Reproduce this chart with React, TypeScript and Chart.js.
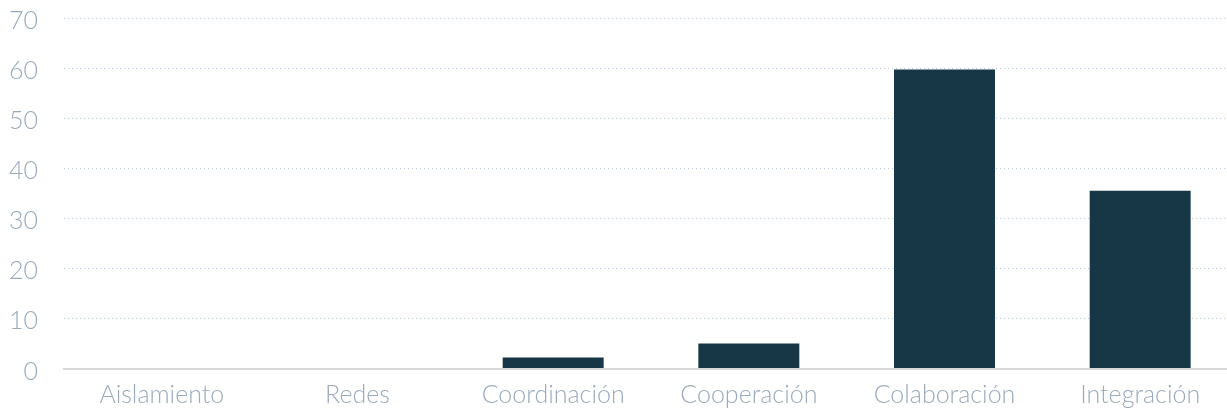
import React, { useEffect, useRef } from "react";
import { Chart, registerables } from "chart.js";

Chart.register(...registerables);

const categories = ["Aislamiento", "Redes", "Coordinación", "Cooperación", "Colaboración", "Integración"];
const values = [0, 0, 2.2, 5.0, 59.7, 35.5];
const yTicks = [0, 10, 20, 30, 40, 50, 60, 70];

export default function App() {
  const ref = useRef<HTMLCanvasElement>(null);
  useEffect(() => {
    if (!ref.current) return;
    const chart = new Chart(ref.current, {
      type: "bar",
      data: {
        labels: categories,
        datasets: [
          {
            data: values,
            backgroundColor: "#173646",
            borderWidth: 0,
            categoryPercentage: 0.8,
            barPercentage: 0.645,
          },
        ],
      },
      options: {
        animation: false,
        responsive: true,
        maintainAspectRatio: false,
        layout: { padding: { top: 0, left: 0, right: 0, bottom: 0 } },
        plugins: { legend: { display: false }, tooltip: { enabled: false } },
        scales: {
          x: {
            grid: { display: false, drawTicks: false },
            border: { display: true, color: "#d9d9d9", width: 2 },
            ticks: {
              color: "#9aabbd",
              padding: 11.5,
              maxRotation: 0,
              autoSkip: false,
              font: { family: "Lato", size: 25, weight: 300 },
            },
          },
          y: {
            min: 0,
            max: 70,
            afterBuildTicks: (axis: any) => {
              axis.ticks = yTicks.map((v) => ({ value: v }));
            },
            afterFit: (axis: any) => {
              axis.width = 64;
            },
            grid: {
              drawTicks: false,
              color: (ctx: any) => (ctx.tick && ctx.tick.value === 0 ? "rgba(0,0,0,0)" : "#bcc9d7"),
              lineWidth: 1,
            },
            border: { display: false, dash: [1, 3] },
            ticks: {
              color: "#9aabbd",
              padding: 26,
              labelOffset: 3,
              font: { family: "Lato", size: 25, weight: 300 },
            },
          },
        },
      },
    });
    return () => chart.destroy();
  }, []);
  return (
    <div style={{ position: "fixed", left: 0, top: 0, right: 0, bottom: 0, overflow: "hidden", background: "#fff" }}>
      <div style={{ position: "absolute", left: 0, top: -23.5, width: 1238, height: 444.5 }}>
        <canvas ref={ref} />
      </div>
    </div>
  );
}
